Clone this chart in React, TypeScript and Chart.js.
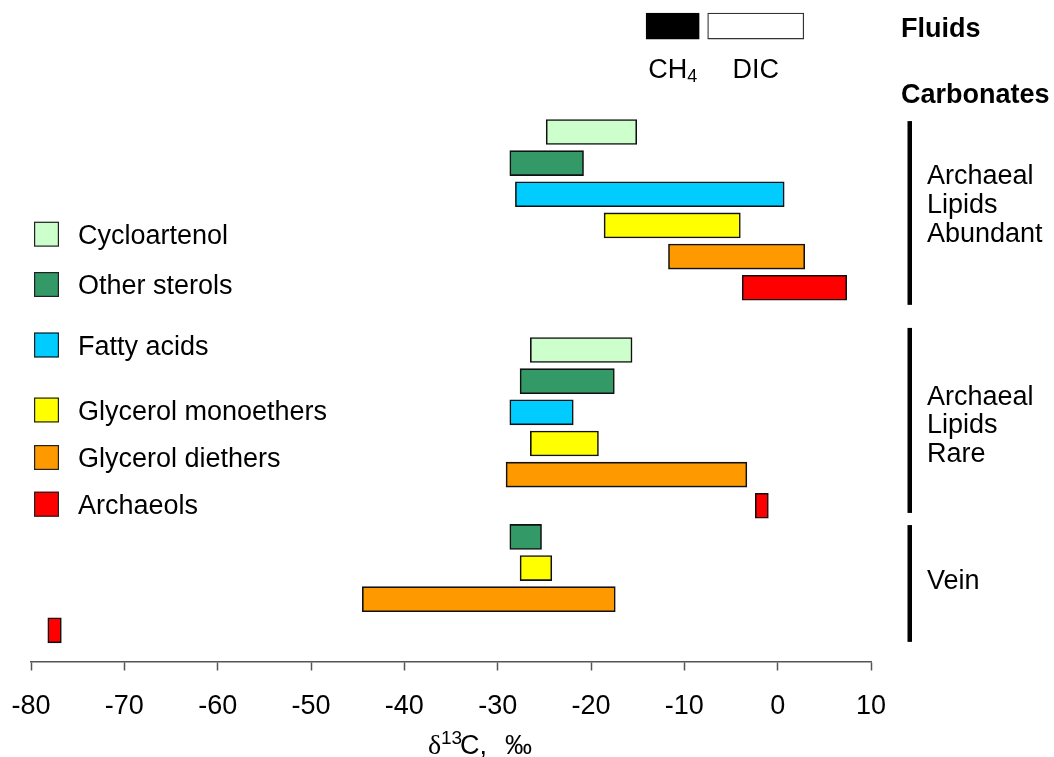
import React, { useEffect, useRef } from 'react';
import { Chart, registerables } from 'chart.js';

Chart.register(...registerables);

const SANS = '"Liberation Sans", Arial, sans-serif';
const SERIF = '"Liberation Serif", "Times New Roman", serif';

// Lipid classes and their colours
const lipidClasses = ['Cycloartenol', 'Other sterols', 'Fatty acids', 'Glycerol monoethers', 'Glycerol diethers', 'Archaeols'];
const classColors = ['#CCFFCC', '#339966', '#00CCFF', '#FFFF00', '#FF9900', '#FF0000'];

// δ13C ranges (‰) for carbonates where archaeal lipids are abundant
const abundantLow = [-24.8, -28.7, -28.1, -18.6, -11.7, -3.8];
const abundantHigh = [-15.1, -20.8, 0.7, -4.0, 2.9, 7.4];

// δ13C ranges (‰) for carbonates where archaeal lipids are rare
const rareLow = [-26.5, -27.6, -28.7, -26.5, -29.1, -2.4];
const rareHigh = [-15.6, -17.5, -21.9, -19.2, -3.3, -1.0];

// δ13C ranges (‰) for the vein carbonate (null = not measured)
const veinLow = [null, -28.7, null, -27.6, -44.5, -78.2];
const veinHigh = [null, -25.3, null, -24.2, -17.4, -76.75];

// Fluid δ13C ranges
const fluidLabels = ['CH4', 'DIC'];
const fluidLow = [-14.1, -7.5];
const fluidHigh = [-8.4, 2.8];
const fluidFill = ['#000000', '#FFFFFF'];

// x axis
const xMin = -80;
const xMax = 10;
const xStep = 10;

// Sample groups shown at the right
const groupLines = [['Archaeal', 'Lipids', 'Abundant'], ['Archaeal', 'Lipids', 'Rare'], ['Vein']];

// Row layout (row index on the hidden y scale)
const ABUNDANT_ROW0 = 0;
const RARE_ROW0 = 7;
const VEIN_ROW0 = 13;
const FLUID_ROW = -3.4;
const groupSpans = [[-0.35, 5.55], [6.29, 12.23], [12.62, 16.37]];
const groupTextRow = [1.68, 8.76, 14.67];
const legendY = [234.2, 284.5, 345, 410, 457.5, 504.2];

function buildDatasets() {
  let veinRow = VEIN_ROW0;
  const sets: any[] = lipidClasses.map((name, i) => {
    const pts: any[] = [
      { x: [abundantLow[i], abundantHigh[i]], y: ABUNDANT_ROW0 + i },
      { x: [rareLow[i], rareHigh[i]], y: RARE_ROW0 + i },
    ];
    if (veinLow[i] !== null && veinHigh[i] !== null) {
      pts.push({ x: [veinLow[i], veinHigh[i]], y: veinRow });
      veinRow += 1;
    }
    return {
      label: name,
      data: pts,
      backgroundColor: classColors[i],
      borderColor: '#111111',
      borderWidth: 1.6,
      borderSkipped: false,
      barThickness: 25,
      grouped: false,
    };
  });
  sets.push({
    label: 'Fluids',
    data: fluidLabels.map((_, i) => ({ x: [fluidLow[i], fluidHigh[i]], y: FLUID_ROW })),
    backgroundColor: fluidFill,
    borderColor: ['#000000', '#333333'],
    borderWidth: 1.3,
    borderSkipped: false,
    barThickness: 26,
    grouped: false,
  });
  return sets;
}

const annotations = {
  id: 'annotations',
  afterDatasetsDraw(chart: any) {
    const { ctx, scales } = chart;
    const x = scales.x;
    const y = scales.y;
    ctx.save();

    // Legend
    lipidClasses.forEach((name, i) => {
      const cy = legendY[i];
      ctx.fillStyle = classColors[i];
      ctx.fillRect(34, cy - 12.5, 25, 25);
      ctx.strokeStyle = '#222222';
      ctx.lineWidth = 1.2;
      ctx.strokeRect(34.6, cy - 11.9, 23.8, 23.8);
      ctx.fillStyle = '#000000';
      ctx.font = `27px ${SANS}`;
      ctx.textAlign = 'left';
      ctx.textBaseline = 'alphabetic';
      ctx.fillText(name, 78, cy + 9.7);
    });

    // Group brackets and labels
    groupSpans.forEach((span, g) => {
      const top = y.getPixelForValue(span[0]);
      const bottom = y.getPixelForValue(span[1]);
      ctx.fillStyle = '#000000';
      ctx.fillRect(907.5, top, 4.5, bottom - top);
      ctx.font = `27px ${SANS}`;
      const base = y.getPixelForValue(groupTextRow[g]);
      groupLines[g].forEach((line, k) => {
        ctx.fillText(line, 927, base + k * 28.6);
      });
    });

    // Fluid labels under their bars
    ctx.textAlign = 'left';
    ctx.font = `27px ${SANS}`;
    const chW = ctx.measureText('CH').width;
    ctx.font = `18px ${SANS}`;
    const subW = ctx.measureText('4').width;
    const ch4Center = (x.getPixelForValue(fluidLow[0]) + x.getPixelForValue(fluidHigh[0])) / 2;
    const ch4Left = ch4Center - (chW + subW) / 2;
    ctx.font = `27px ${SANS}`;
    ctx.fillText('CH', ch4Left, 77.5);
    ctx.font = `18px ${SANS}`;
    ctx.fillText('4', ch4Left + chW, 82);
    ctx.font = `27px ${SANS}`;
    ctx.textAlign = 'center';
    const dicCenter = (x.getPixelForValue(fluidLow[1]) + x.getPixelForValue(fluidHigh[1])) / 2;
    ctx.fillText('DIC', dicCenter, 77.5);

    // Headings
    ctx.textAlign = 'left';
    ctx.font = `bold 27px ${SANS}`;
    ctx.fillText('Fluids', 901, 37);
    ctx.fillText('Carbonates', 901, 103);

    // Axis title: δ13C, ‰
    const tb = 754;
    ctx.font = `28px ${SERIF}`;
    ctx.fillText('\u03B4', 428, tb);
    ctx.font = `19px ${SANS}`;
    ctx.fillText('13', 441, tb - 10);
    ctx.font = `27px ${SANS}`;
    ctx.fillText('C,', 460, tb);
    ctx.fillText('\u2030', 505, tb);

    ctx.restore();
  },
};

export default function App() {
  const ref = useRef<HTMLCanvasElement>(null);

  useEffect(() => {
    const chart = new Chart(ref.current as HTMLCanvasElement, {
      type: 'bar',
      data: { datasets: buildDatasets() },
      options: {
        indexAxis: 'y',
        animation: false,
        responsive: false,
        layout: { padding: { top: 7.4, left: 31, right: 183, bottom: 0 } },
        plugins: { legend: { display: false }, tooltip: { enabled: false } },
        scales: {
          y: {
            type: 'linear',
            display: false,
            reverse: true,
            offset: false,
            grid: { offset: false },
            min: -4,
            max: 17,
          },
          x: {
            type: 'linear',
            min: xMin,
            max: xMax,
            offset: false,
            ticks: {
              stepSize: xStep,
              color: '#000000',
              padding: 20,
              font: { size: 27, family: SANS },
            },
            grid: {
              drawOnChartArea: false,
              drawTicks: true,
              tickLength: 9,
              tickColor: '#555555',
              tickWidth: 1.5,
            },
            border: { display: true, color: '#555555', width: 1.5 },
            afterFit: (scale: any) => {
              scale.height = 757 - 661.5;
              scale.paddingLeft = 0;
              scale.paddingRight = 0;
            },
          },
        },
      },
      plugins: [annotations],
    });
    return () => chart.destroy();
  }, []);

  return (
    <div style={{ position: 'fixed', left: 0, top: 0, width: 1054, height: 757, background: '#ffffff' }}>
      <canvas ref={ref} width={1054} height={757} style={{ display: 'block', width: 1054, height: 757 }} />
    </div>
  );
}
